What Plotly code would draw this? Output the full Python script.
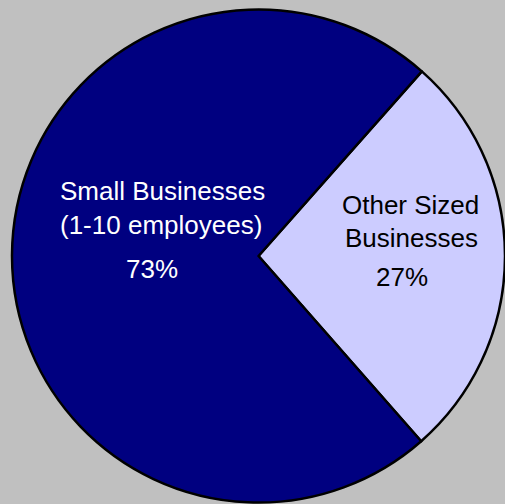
import plotly.graph_objects as go

categories = ["Other Sized Businesses", "Small Businesses (1-10 employees)"]
values = [27, 73]
colors = ["#CCCCFF", "#000080"]

W, H = 505, 504

fig = go.Figure(go.Pie(
    labels=categories,
    values=values,
    sort=False,
    direction="clockwise",
    rotation=41.5,
    textinfo="none",
    hoverinfo="label+percent",
    marker=dict(colors=colors, line=dict(color="#000000", width=2.5)),
    domain=dict(x=[12 / W, 1.0], y=[0.0, 0.984]),
    showlegend=False,
))

def px_to_paper(xp, yp):
    return xp / W, 1 - yp / H

labels = [
    ("Small Businesses", 162, 190.5, "white"),
    ("(1-10 employees)", 161, 225, "white"),
    (f"{values[1]}%", 152, 269, "white"),
    ("Other Sized", 410.5, 205, "black"),
    ("Businesses", 411, 238, "black"),
    (f"{values[0]}%", 402, 277, "black"),
]
annotations = []
for text, xp, yp, col in labels:
    x, y = px_to_paper(xp, yp)
    annotations.append(dict(
        text=text, x=x, y=y, xref="paper", yref="paper",
        xanchor="center", yanchor="middle", showarrow=False,
        font=dict(family="Liberation Sans, Arial, sans-serif", size=26, color=col),
    ))

fig.update_layout(
    width=W, height=H, autosize=False,
    margin=dict(l=0, r=0, t=0, b=0),
    paper_bgcolor="#C0C0C0",
    plot_bgcolor="#C0C0C0",
    annotations=annotations,
)

fig.write_html(
    "out.html",
    config={"displayModeBar": False},
    post_script="document.body.style.margin='0';document.body.style.overflow='hidden';document.body.style.background='#C0C0C0';",
)
